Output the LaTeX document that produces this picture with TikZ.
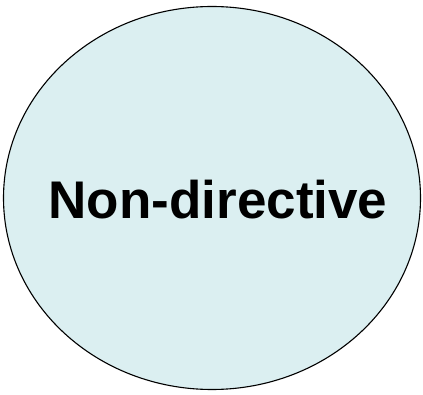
\documentclass[tikz,border=0pt]{standalone}
\usepackage{fontspec}
\setmainfont{Liberation Sans}
\usepackage{tikz}
\usetikzlibrary{shapes.geometric}
\definecolor{softcyan}{RGB}{219,239,241}
\tikzset{
  bubble/.style={draw=black,line width=1.1pt,fill=softcyan,ellipse,
    minimum width=417pt,minimum height=383pt,inner sep=0pt},
  bubbletext/.style={font=\fontsize{53}{64}\selectfont\bfseries,inner sep=0pt}
}
\begin{document}
\begin{tikzpicture}[x=1pt,y=1pt]
  \useasboundingbox (0,0) rectangle (423,394);
  \node[bubble] (circle) at (212,196) {};
  \node[bubbletext,anchor=base] (label) at (218,175.5) {Non-directive};
\end{tikzpicture}
\end{document}
